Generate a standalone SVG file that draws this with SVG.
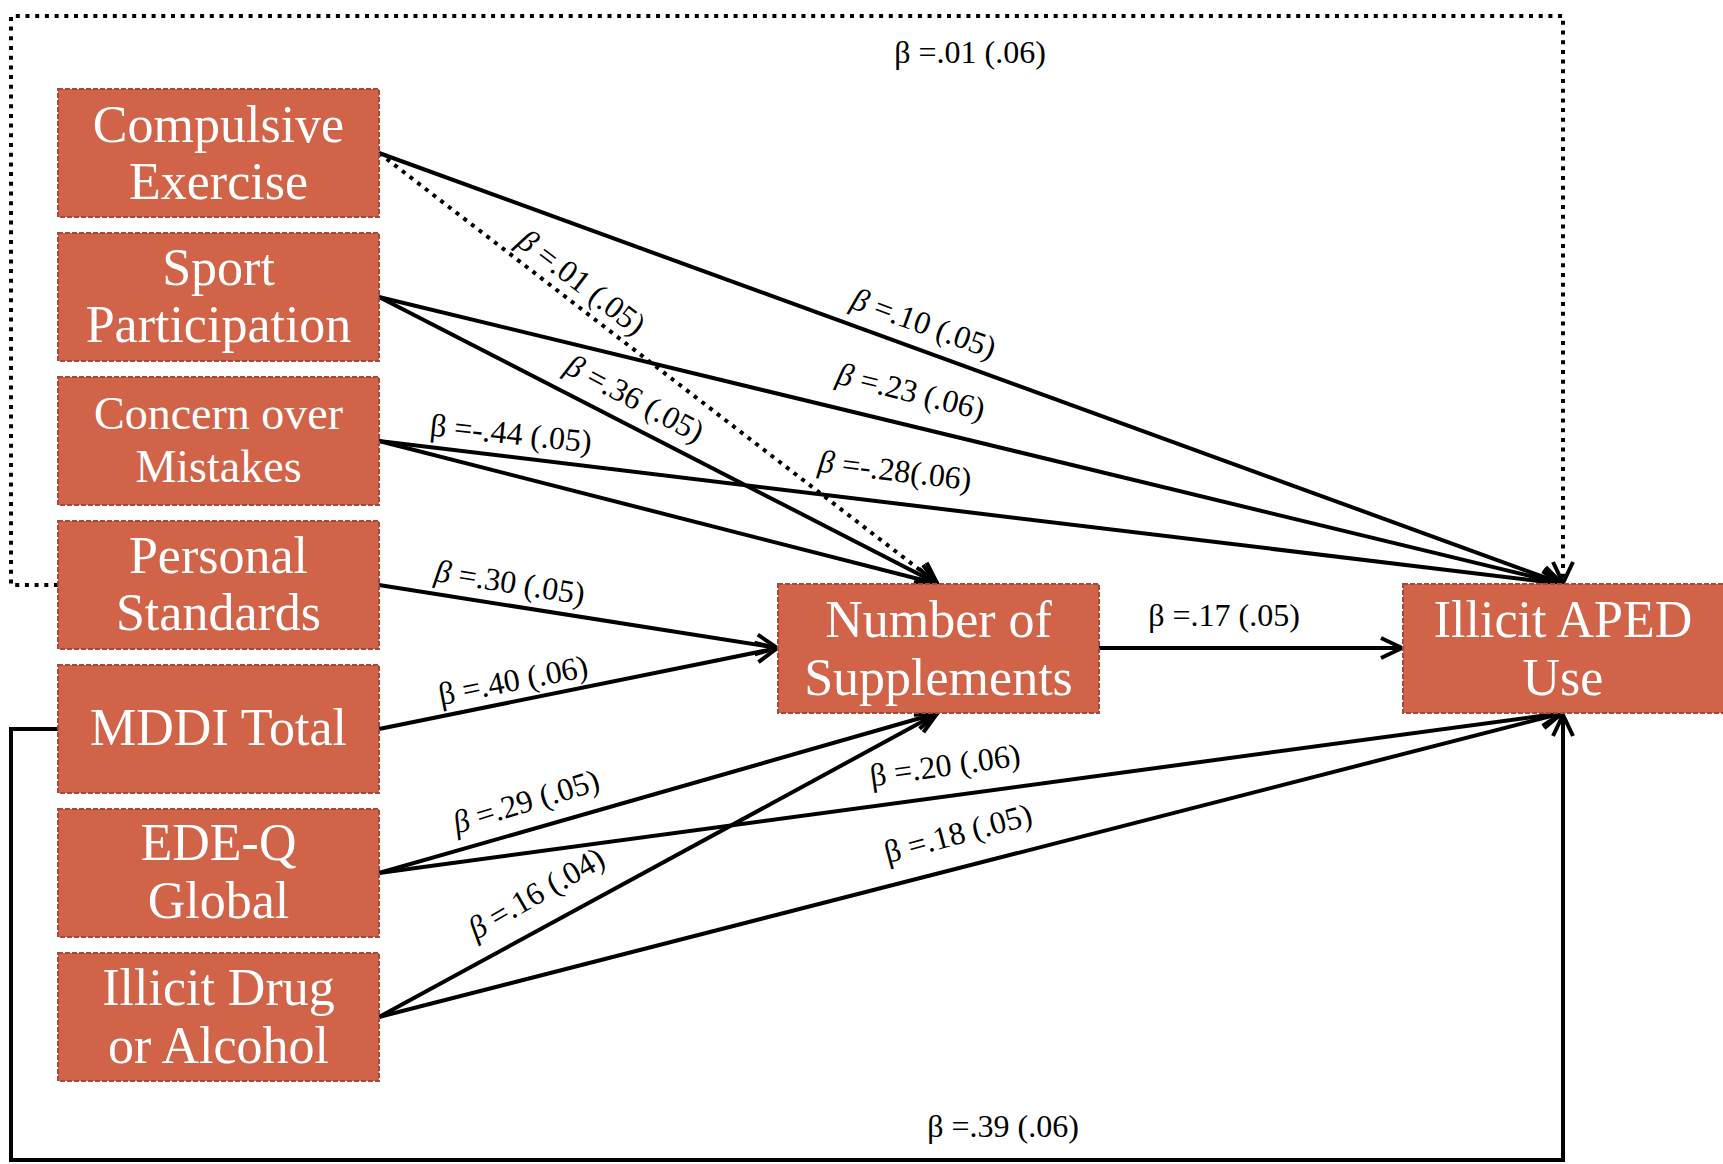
<svg xmlns="http://www.w3.org/2000/svg" width="1723" height="1164" viewBox="0 0 1723 1164">
<defs>
<style>
.box{fill:#D16349;stroke:#A54A39;stroke-width:2;stroke-dasharray:5 2}
.bt{font-family:"Liberation Serif","DejaVu Serif",serif;font-size:52px;fill:#fff;text-anchor:middle}
.bt.sm{font-size:46px}
.lbl{font-family:"Liberation Serif","DejaVu Serif",serif;font-size:32px;fill:#000;text-anchor:middle;dominant-baseline:central}
.ln{fill:none;stroke:#000;stroke-width:4}
.dot{fill:none;stroke:#000;stroke-width:4;stroke-dasharray:4 5.7}
.it{font-style:italic}
</style>
<marker id="arr" markerUnits="userSpaceOnUse" markerWidth="40" markerHeight="40" viewBox="-30 -20 40 40" refX="1" refY="0" orient="auto">
<path d="M-21,-10 L0,0 L-21,10" fill="none" stroke="#000" stroke-width="4"/>
</marker>
</defs>
<rect width="1723" height="1164" fill="#fff"/>

<g id="connectors">
<path class="dot" d="M58,585 L11,585 L11,16 L1563,16 L1563,584" marker-end="url(#arr)"/>
<path class="ln" d="M58,729 L11,729 L11,1160 L1563,1160 L1563,714" marker-end="url(#arr)"/>
<path class="ln" d="M379,153 L1563,584" marker-end="url(#arr)"/>
<path class="dot" d="M379,153 L938,584" marker-end="url(#arr)"/>
<path class="ln" d="M379,297 L1563,584" marker-end="url(#arr)"/>
<path class="ln" d="M379,297 L938,584" marker-end="url(#arr)"/>
<path class="ln" d="M379,441 L1563,584" marker-end="url(#arr)"/>
<path class="ln" d="M379,441 L938,584" marker-end="url(#arr)"/>
<path class="ln" d="M379,585 L778,648" marker-end="url(#arr)"/>
<path class="ln" d="M379,729 L778,648" marker-end="url(#arr)"/>
<path class="ln" d="M379,873 L938,713" marker-end="url(#arr)"/>
<path class="ln" d="M379,873 L1563,713" marker-end="url(#arr)"/>
<path class="ln" d="M379,1017 L938,713" marker-end="url(#arr)"/>
<path class="ln" d="M379,1017 L1563,713" marker-end="url(#arr)"/>
<path class="ln" d="M1099,648 L1403,648" marker-end="url(#arr)"/>

<text class="lbl" x="970" y="52">β =.01 (.06)</text>
<text class="lbl" x="1003" y="1126">β =.39 (.06)</text>
<text class="lbl" x="582" y="282" transform="rotate(37.6 582 282)"><tspan class="it">β</tspan> =.01 (.05)</text>
<text class="lbl" x="924" y="323" transform="rotate(20 924 323)"><tspan class="it">β</tspan> =.10 (.05)</text>
<text class="lbl" x="911" y="391" transform="rotate(14 911 391)"><tspan class="it">β</tspan> =.23 (.06)</text>
<text class="lbl" x="635" y="398" transform="rotate(28 635 398)"><tspan class="it">β</tspan> =.36 (.05)</text>
<text class="lbl" x="511" y="433" transform="rotate(6 511 433)">β =-.44 (.05)</text>
<text class="lbl" x="895" y="470" transform="rotate(7 895 470)"><tspan class="it">β</tspan> =-.28(.06)</text>
<text class="lbl" x="510" y="582" transform="rotate(9 510 582)"><tspan class="it">β</tspan> =.30 (.05)</text>
<text class="lbl" x="513" y="680" transform="rotate(-11 513 680)">β =.40 (.06)</text>
<text class="lbl" x="1224" y="615">β =.17 (.05)</text>
<text class="lbl" x="526" y="801" transform="rotate(-17 526 801)"><tspan class="it">β</tspan> =.29 (.05)</text>
<text class="lbl" x="945" y="765" transform="rotate(-8 945 765)">β =.20 (.06)</text>
<text class="lbl" x="536" y="893" transform="rotate(-30 536 893)"><tspan class="it">β</tspan> =.16 (.04)</text>
<text class="lbl" x="958" y="833" transform="rotate(-15 958 833)">β =.18 (.05)</text>
</g>

<g id="node-compulsive">
<rect class="box" x="58" y="89" width="321" height="128"/>
<text class="bt" x="218.5" y="142">Compulsive</text>
<text class="bt" x="218.5" y="199">Exercise</text>
</g>
<g id="node-sport">
<rect class="box" x="58" y="233" width="321" height="128"/>
<text class="bt" x="218.5" y="285">Sport</text>
<text class="bt" x="218.5" y="342">Participation</text>
</g>
<g id="node-concern">
<rect class="box" x="58" y="377" width="321" height="128"/>
<text class="bt sm" x="218.5" y="429">Concern over</text>
<text class="bt sm" x="218.5" y="482">Mistakes</text>
</g>
<g id="node-personal">
<rect class="box" x="58" y="521" width="321" height="128"/>
<text class="bt" x="218.5" y="573">Personal</text>
<text class="bt" x="218.5" y="630">Standards</text>
</g>
<g id="node-mddi">
<rect class="box" x="58" y="665" width="321" height="128"/>
<text class="bt" x="218.5" y="745">MDDI Total</text>
</g>
<g id="node-edeq">
<rect class="box" x="58" y="809" width="321" height="128"/>
<text class="bt" x="218.5" y="860">EDE-Q</text>
<text class="bt" x="218.5" y="918">Global</text>
</g>
<g id="node-drug">
<rect class="box" x="58" y="953" width="321" height="128"/>
<text class="bt" x="218.5" y="1005">Illicit Drug</text>
<text class="bt" x="218.5" y="1063">or Alcohol</text>
</g>
<g id="node-supplements">
<rect class="box" x="778" y="584" width="321" height="129"/>
<text class="bt" x="938.5" y="637">Number of</text>
<text class="bt" x="938.5" y="695">Supplements</text>
</g>
<g id="node-aped">
<rect class="box" x="1403" y="584" width="321" height="129"/>
<text class="bt" x="1563" y="637">Illicit APED</text>
<text class="bt" x="1563" y="695">Use</text>
</g>
</svg>
